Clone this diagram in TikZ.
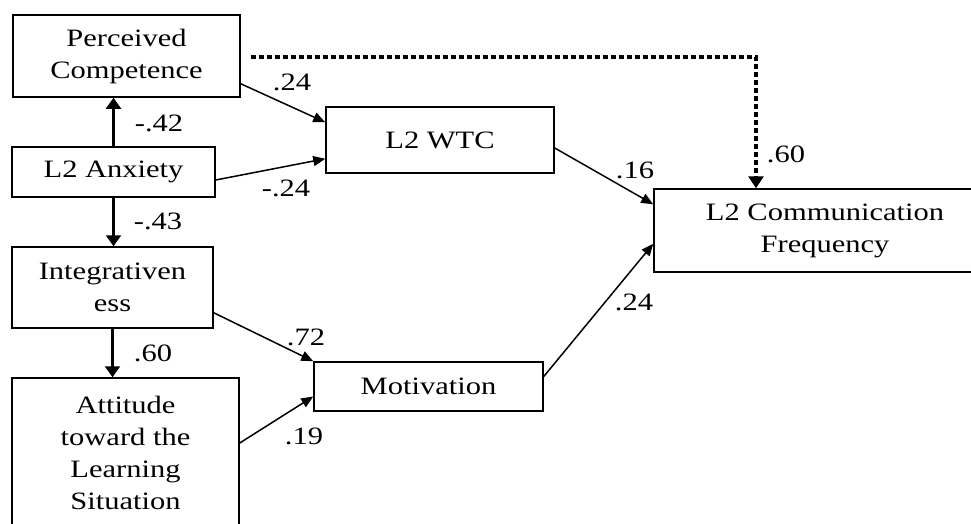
\documentclass[tikz,border=0pt]{standalone}
\usepackage{fontspec}
\setmainfont{Liberation Serif}[FakeStretch=1.22]
\usetikzlibrary{arrows.meta, calc}

\tikzset{
    box/.style={draw, line width=1.5pt, inner sep=0pt, align=center,
        font=\fontsize{25}{32}\selectfont},
    coef/.style={inner sep=0pt, font=\fontsize{25}{28}\selectfont},
    link/.style={line width=1.5pt, -{Triangle[length=12pt, width=10pt]}},
    vlink/.style={line width=2.2pt, -{Triangle[length=11pt, width=15pt]}},
    dotlink/.style={line width=4pt, dash pattern=on 5pt off 3pt,
        -{Triangle[length=12pt, width=15pt]}}
}

\begin{document}
\begin{tikzpicture}[x=1pt, y=-1pt]
    \useasboundingbox (0, 0) rectangle (971, 523);
    \clip (0, 0) rectangle (971, 523);

    % Left column of predictors
    \node[box, minimum width=227pt, minimum height=82pt] (pc) at (126.5, 56) {Perceived\\Competence};
    \node[box, minimum width=203pt, minimum height=50pt] (anx) at (113.5, 172) {L2 Anxiety};
    \node[box, minimum width=201pt, minimum height=81pt] (integ) at (112.5, 287.5) {Integrativen\\ess};
    \node[box, minimum width=227pt, minimum height=150pt] (att) at (125.5, 453) {Attitude\\toward the\\Learning\\Situation};

    % Middle and outcome boxes
    \node[box, minimum width=228pt, minimum height=66pt] (wtc) at (440, 140) {L2 WTC};
    \node[box, minimum width=229pt, minimum height=49pt] (mot) at (428.5, 386.5) {Motivation};
    \node[box, minimum width=342pt, minimum height=83pt] (comm) at (825, 230.5) {L2 Communication\\Frequency};

    % Vertical paths on the left
    \draw[vlink] (anx.north) -- (anx.north |- pc.south);
    \draw[vlink] (anx.south) -- (anx.south |- integ.north);
    \draw[vlink] (integ.south) -- (integ.south |- att.north);

    % Paths into L2 WTC and Motivation
    \draw[link] ([yshift=14pt]pc.south east) -- ([yshift=-16pt]wtc.north west);
    \draw[link] ([yshift=-8pt]anx.east) -- ([yshift=15pt]wtc.south west);
    \draw[link] ([yshift=16pt]integ.south east) -- (mot.north west);
    \draw[link] ([yshift=10pt]att.east) -- ([yshift=-10pt]mot.west);

    % Paths into L2 Communication Frequency
    \draw[link] ([yshift=-8pt]wtc.east) -- ([yshift=-16pt]comm.north west);
    \draw[link] ([yshift=10pt]mot.east) -- ([yshift=29pt]comm.south west);
    \draw[dotlink] ([xshift=10pt, yshift=-1pt]pc.east) -| ([xshift=-69pt]comm.north);

    % Path coefficients
    \node[coef] (c42) at (159, 123) {-.42};
    \node[coef] (c43) at (158, 221) {-.43};
    \node[coef] (c60a) at (153, 353) {.60};
    \node[coef] (c24a) at (292, 82) {.24};
    \node[coef] (c24b) at (286, 188) {-.24};
    \node[coef] (c72) at (306, 337) {.72};
    \node[coef] (c19) at (304, 436) {.19};
    \node[coef] (c16) at (635, 170) {.16};
    \node[coef] (c24c) at (634, 302) {.24};
    \node[coef] (c60b) at (786, 154) {.60};
\end{tikzpicture}
\end{document}
